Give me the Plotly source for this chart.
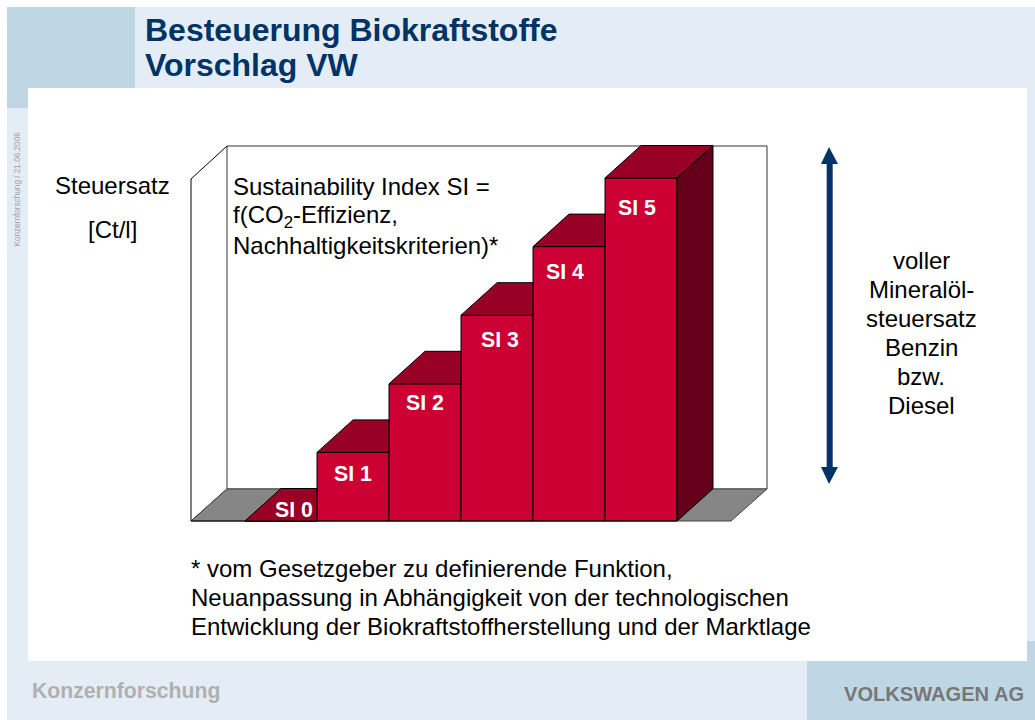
import plotly.graph_objects as go

# ---- data ----
categories = ["SI 0", "SI 1", "SI 2", "SI 3", "SI 4", "SI 5"]
tax_steps = [0, 1, 2, 3, 4, 5]
title_lines = ["Besteuerung Biokraftstoffe", "Vorschlag VW"]
y_label = ["Steuersatz", "[Ct/l]"]
formula_lines = ["Sustainability Index SI =", "f(CO<sub>2</sub>-Effizienz,", "Nachhaltigkeitskriterien)*"]
right_lines = ["voller", "Mineralöl-", "steuersatz", "Benzin", "bzw.", "Diesel"]
note_lines = ["* vom Gesetzgeber zu definierende Funktion,",
              "Neuanpassung in Abhängigkeit von der technologischen",
              "Entwicklung der Biokraftstoffherstellung und der Marktlage"]

# ---- page geometry ----
W, H = 1035, 720
PX_X, PX_Y = 72.0, 68.6          # pixels per category / per step
X0, Y0 = 281.0, 521.0            # pixel of category 0 centre / of step 0
DX, DY = 0.5, 32.5 / PX_Y        # oblique depth in data units
FONT = "Liberation Sans"
RED, RED_TOP, RED_SIDE = "#CC0033", "#990026", "#66001A"
GREY = "#868686"
DARK, LIGHT = "#BFD7E5", "#E4EDF5"
NAVY = "#003366"

dx = lambda p: (p - X0) / PX_X
dy = lambda p: (Y0 - p) / PX_Y
px, py = (lambda p: p / W), (lambda p: 1 - p / H)

fig = go.Figure()

def poly(xs, ys, fill=None, line="#000000", lw=1):
    fig.add_trace(go.Scatter(
        x=xs, y=ys, mode="lines", hoverinfo="skip", showlegend=False,
        fill="toself" if fill else None, fillcolor=fill,
        line=dict(color=line, width=lw)))

# bars
fig.add_trace(go.Bar(x=list(range(len(categories))), y=tax_steps, width=1,
                     marker=dict(color=RED, line=dict(color="#000000", width=1)),
                     hoverinfo="skip", showlegend=False))

# room: floor and front edge (the walls are shapes below the bars)
wl, wr, wb, wt = dx(227), dx(767), dy(489), dy(146)
fl, ft = dx(191), dy(179)
n = len(categories)
poly([fl, wl, -0.5 + DX, -0.5, fl], [0, wb, wb, 0, 0], fill=GREY, line="#444444")
poly([n - 0.5, n - 0.5 + DX, wr, wr - DX, n - 0.5], [0, wb, wb, 0, 0], fill=GREY, line="#444444")
poly([fl, dx(677)], [0, 0])

# oblique tops and side face, derived from the bar values
for i, v in enumerate(tax_steps):
    l, r = i - 0.5, i + 0.5
    if i < n - 1:
        xs = [l, l + DX, r, r, l]
        ys = [v, v + DY, v + DY, v, v]
    else:
        xs = [l, l + DX, r + DX, r, l]
        ys = [v, v + DY, v + DY, v, v]
    poly(xs, ys, fill=RED_TOP)
last = tax_steps[-1]
r = n - 0.5
poly([r, r + DX, r + DX, r, r], [last, last + DY, DY, 0, last], fill=RED_SIDE)

# shapes: page panels
def rect(x0, y0, x1, y1, col):
    return dict(type="rect", xref="paper", yref="paper", x0=px(x0), x1=px(x1), y0=py(y0), y1=py(y1),
                fillcolor=col, line_width=0, layer="below")

def wall(xs, ys, col="#000000"):
    path = "M " + " L ".join(f"{a:.5f},{b:.5f}" for a, b in zip(xs, ys))
    return dict(type="path", xref="x", yref="y", path=path, line=dict(color=col, width=1), layer="below")

arrow_pts = [(829, 147), (838, 164), (832.7, 164), (832.7, 467), (838, 467), (829, 484),
             (821, 467), (826.7, 467), (826.7, 164), (821, 164)]
arrow_path = "M " + " L ".join(f"{px(a):.5f},{py(b):.5f}" for a, b in arrow_pts) + " Z"

shapes = [
    rect(7, 7, W, H, LIGHT),
    rect(7, 7, 135, 88, DARK),
    rect(7, 88, 28, 108, DARK),
    rect(28, 88, 1027, 661, "#FFFFFF"),
    rect(807, 661, W, H, DARK),
    rect(1027, 641, W, 661, DARK),
    wall([wl, wr, wr, wl, wl], [wt, wt, wb, wb, wt], "#333333"),
    wall([fl, fl, wl], [0, ft, wt]),
    wall([fl, wl], [0, wb]),
    dict(type="path", xref="paper", yref="paper", path=arrow_path, fillcolor=NAVY, line_width=0),
]

# text
ann = []
def text(x, y, s, size=24, color="#000000", anchor="left", bold=False, angle=0):
    ann.append(dict(xref="paper", yref="paper", x=px(x), y=py(y), text=f"<b>{s}</b>" if bold else s,
                    showarrow=False, xanchor=anchor, yanchor="middle", textangle=angle,
                    font=dict(family=FONT, size=size, color=color), borderpad=0, borderwidth=0))

for s, y in zip(title_lines, (30, 65)):
    text(145, y, s, size=32, color=NAVY, bold=True)
for s, y in zip(y_label, (186, 229)):
    text(112, y, s, anchor="center")
for s, y in zip(formula_lines, (187, 216, 245)):
    text(233, y, s)
for s, y in zip(right_lines, (260, 289, 318, 347, 376, 405)):
    text(921, y, s, anchor="center")
for s, y in zip(note_lines, (568, 597, 626)):
    text(191, y, s)
text(32, 691, "Konzernforschung", size=21.2, color="#B0B0B0", bold=True)
text(1024, 694, "VOLKSWAGEN AG", size=20.1, color="#777777", bold=True, anchor="right")
text(17, 189.5, "Konzernforschung / 21.06.2006", size=8.2, color="#A0A0A0", anchor="center", angle=-90)

# bar labels, in data coordinates
label_shift = [-11, 22, 19, 25, 25, 30]
label_dx = [13, 0, 0, 3, -4, -4]
for i, (c, v) in enumerate(zip(categories, tax_steps)):
    ann.append(dict(x=i, y=v, xref="x", yref="y", text=f"<b>{c}</b>", showarrow=False,
                    xshift=label_dx[i], yshift=-label_shift[i], xanchor="center", yanchor="middle",
                    font=dict(family=FONT, size=21.3, color="#FFFFFF")))

fig.update_layout(
    width=W, height=H, margin=dict(l=0, r=0, t=0, b=0),
    paper_bgcolor="#FFFFFF", plot_bgcolor="rgba(0,0,0,0)",
    showlegend=False, shapes=shapes, annotations=ann,
    xaxis=dict(range=[dx(0), dx(W)], visible=False, fixedrange=True),
    yaxis=dict(range=[dy(H), dy(0)], visible=False, fixedrange=True),
)
fig.write_html("out.html", config=dict(displayModeBar=False),
               post_script="document.body.style.margin='0';document.body.style.overflow='hidden';")
